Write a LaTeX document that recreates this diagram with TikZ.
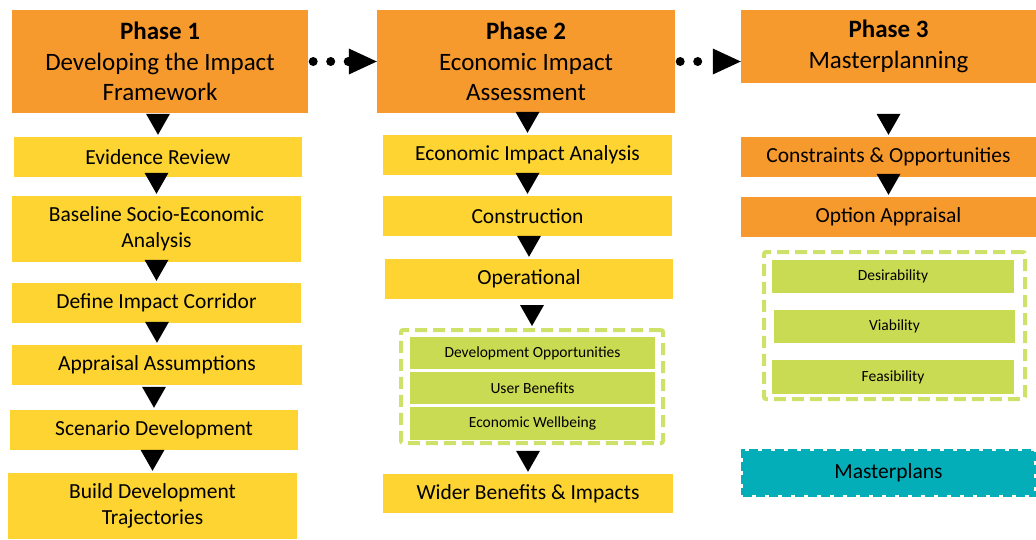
\documentclass[tikz,border=0pt]{standalone}
\usepackage{fontspec}
\setmainfont{Carlito}
\usetikzlibrary{arrows.meta,calc}
\definecolor{phaseorange}{RGB}{247,154,46}
\definecolor{stepyellow}{RGB}{253,212,50}
\definecolor{subgreen}{RGB}{201,219,82}
\definecolor{groupgreen}{RGB}{206,225,104}
\definecolor{planteal}{RGB}{4,174,185}
\tikzset{
phase/.style={fill=phaseorange, inner sep=0pt, align=center, font=\fontsize{25}{30.5}\selectfont},
stepbox/.style={fill=stepyellow, inner sep=0pt, align=center, font=\fontsize{21.5}{26.5}\selectfont},
orangebox/.style={fill=phaseorange, inner sep=0pt, align=center, font=\fontsize{21.5}{26.5}\selectfont},
subbox/.style={fill=subgreen, inner sep=0pt, font=\fontsize{15.5}{18}\selectfont},
groupbox/.style={draw=groupgreen, line width=4pt, dash pattern=on 12pt off 6pt, rounded corners=2pt},
planbox/.style={fill=planteal, draw=planteal, line width=4pt, dash pattern=on 9pt off 4pt, font=\fontsize{21.5}{26.5}\selectfont},
tri/.style={to path={($(\tikztotarget.north)+(-12,-23)$) -- ++(24,0) -- ++(-12,21) -- cycle}},
dotarrow/.style={line width=9pt, line cap=round, dash pattern=on 0pt off 17.5pt, shorten <=5pt, -{Triangle[length=28pt,width=26pt,line width=0pt]}}
}
\begin{document}
\begin{tikzpicture}[x=1pt,y=-1pt]
\useasboundingbox (0,0) rectangle (1036,539);
% phase 1
\node[phase, minimum width=296pt, minimum height=103pt] (ph1) at (160,61.5) {\textbf{Phase 1}\\Developing the Impact\\Framework};
\node[stepbox, minimum width=288pt, minimum height=40pt] (er) at (158,157) {Evidence Review};
\node[stepbox, minimum width=289pt, minimum height=66pt] (bs) at (156.5,229) {Baseline Socio-Economic\\Analysis};
\node[stepbox, minimum width=289pt, minimum height=40pt] (dc) at (156.5,303) {Define Impact Corridor};
\node[stepbox, minimum width=290pt, minimum height=40pt] (aa) at (157,365) {Appraisal Assumptions};
\node[stepbox, minimum width=288pt, minimum height=40pt] (sd) at (154,430) {Scenario Development};
\node[stepbox, minimum width=289pt, minimum height=66pt] (bd) at (152.5,506) {Build Development\\Trajectories};
\fill[tri] (ph1) to (er);
\fill[tri] (er) to (bs);
\fill[tri] (bs) to (dc);
\fill[tri] (dc) to (aa);
\fill[tri] (aa) to (sd);
\fill[tri] (sd) to (bd);
% phase 2
\node[phase, minimum width=298pt, minimum height=103pt] (ph2) at (526,61.5) {\textbf{Phase 2}\\Economic Impact\\Assessment};
\node[stepbox, minimum width=289pt, minimum height=40pt] (eia) at (527.5,155) {Economic Impact Analysis};
\node[stepbox, minimum width=289pt, minimum height=40pt] (con) at (527.5,216) {Construction};
\node[stepbox, minimum width=288pt, minimum height=40pt] (op) at (529,279) {Operational};
\node[groupbox, minimum width=262pt, minimum height=113pt] (g2) at (532,386.5) {};
\node[subbox, minimum width=245pt, minimum height=32pt] (dev) at (532.5,353) {Development Opportunities};
\node[subbox, minimum width=245pt, minimum height=32pt] (ub) at (532.5,388) {User Benefits};
\node[subbox, minimum width=245pt, minimum height=33pt] (ew) at (532.5,423.5) {Economic Wellbeing};
\node[stepbox, minimum width=290pt, minimum height=39pt] (wb) at (528,493.5) {Wider Benefits \& Impacts};
\fill[tri] (ph2) to (eia);
\fill[tri] (eia) to (con);
\fill[tri] (con) to (op);
\fill[tri] (op) to (g2);
\fill[tri] (g2) to (wb);
% phase 3
\node[phase, minimum width=295pt, minimum height=73pt] (ph3) at (888.5,46.5) {\textbf{Phase 3}\\Masterplanning};
\node[orangebox, minimum width=295pt, minimum height=40pt] (co) at (888.5,157) {Constraints \& Opportunities};
\node[orangebox, minimum width=295pt, minimum height=40pt] (oa) at (888.5,217) {Option Appraisal};
\node[groupbox, minimum width=261pt, minimum height=147pt] (g3) at (894.5,325.5) {};
\node[subbox, minimum width=242pt, minimum height=33pt] (de) at (893,276.5) {Desirability};
\node[subbox, minimum width=241pt, minimum height=33pt] (vi) at (894.5,326.5) {Viability};
\node[subbox, minimum width=242pt, minimum height=34pt] (fe) at (893,377) {Feasibility};
\node[planbox, minimum width=291pt, minimum height=44pt] (mp) at (888.5,473) {Masterplans};
\fill[tri] (ph3) to (co);
\fill[tri] (co) to (oa);
% links between phases
\draw[dotarrow] (ph1.east) -- (ph2.west);
\draw[dotarrow] (ph2.east) -- (ph2.east -| ph3.west);
\end{tikzpicture}
\end{document}
